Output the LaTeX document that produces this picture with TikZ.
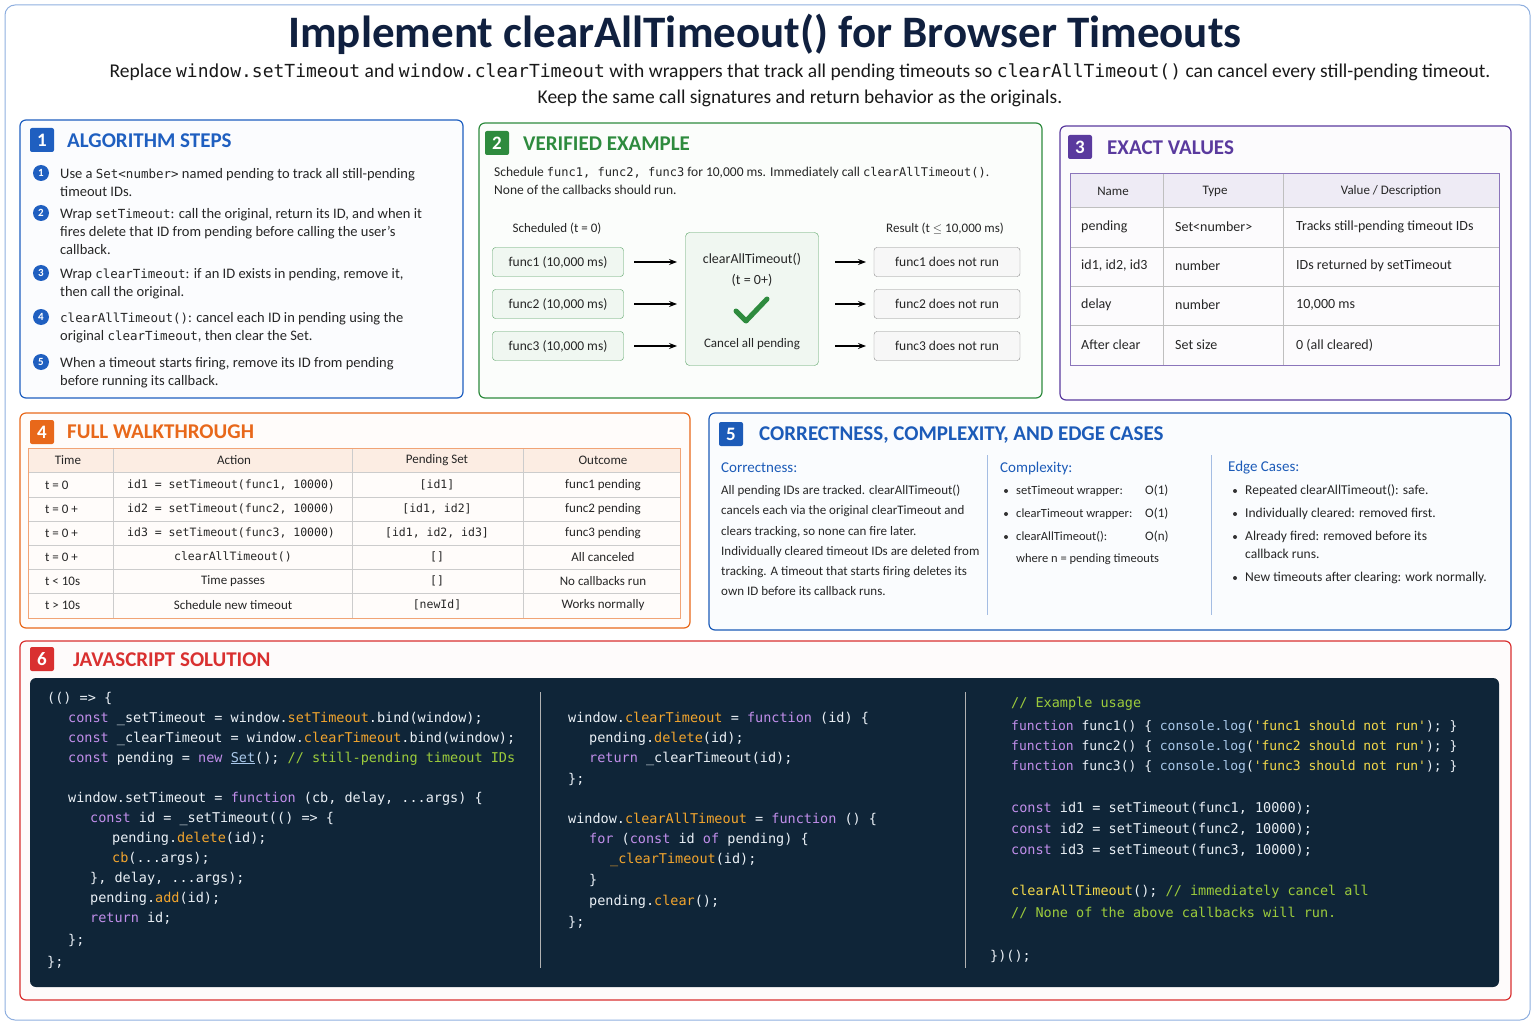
\documentclass[tikz,border=0pt]{standalone}
\usepackage{fontspec}
\setmainfont{Carlito}
\setmonofont{DejaVu Sans Mono}
\usepackage{xcolor}
\usetikzlibrary{arrows.meta}
\usetikzlibrary{positioning}
\definecolor{navy}{HTML}{10203F}
\definecolor{cA}{HTML}{1F5FC0}
\definecolor{cB}{HTML}{2E8B3E}
\definecolor{cC}{HTML}{5A3A9E}
\definecolor{cD}{HTML}{E8681A}
\definecolor{cE}{HTML}{1C5BB8}
\definecolor{cF}{HTML}{D93030}
\definecolor{codebg}{HTML}{0F2538}
\definecolor{kwc}{HTML}{C18EEA}
\definecolor{fnc}{HTML}{F2A52E}
\definecolor{cmc}{HTML}{9CCB3C}
\definecolor{stc}{HTML}{F2D84A}
\definecolor{csc}{HTML}{A9C8EA}
\definecolor{txc}{HTML}{EAF0F6}
\newcommand\fsz[2]{\fontsize{#1}{#2}\selectfont}
\newcommand\kw[1]{\textcolor{kwc}{#1}}
\newcommand\fn[1]{\textcolor{fnc}{#1}}
\newcommand\cm[1]{\textcolor{cmc}{#1}}
\newcommand\st[1]{\textcolor{stc}{#1}}
\newcommand\cs[1]{\textcolor{csc}{#1}}
\tikzset{
  panel/.style={draw=#1, line width=1.2pt, rounded corners=6pt, fill=#1!2},
  badge/.style={fill=#1, text=white, font=\fsz{19}{20}\bfseries, minimum size=24pt,
    inner sep=0pt, rounded corners=2pt},
  head/.style={text=#1, font=\fsz{21}{24}\bfseries, anchor=west, inner sep=0pt},
  body/.style={font=\fsz{14.5}{18}, anchor=north west, inner sep=0pt, align=left, text=black!85},
  small/.style={font=\fsz{13}{20.2}, anchor=north west, inner sep=0pt, align=left, text=black!85},
  cell/.style={font=\fsz{13}{14}, inner sep=0pt, text=black!85},
  stepnum/.style={circle, fill=cA, text=white, font=\fsz{11}{12}\bfseries, minimum size=16pt, inner sep=0pt},
  gbox/.style={draw=cB!80, fill=cB!7, rounded corners=3pt, minimum width=131pt, minimum height=29pt,
    font=\fsz{13.5}{14}, text=black!85},
  rbox/.style={draw=black!45, fill=black!3, rounded corners=3pt, minimum width=146pt, minimum height=29pt,
    font=\fsz{13.5}{14}, text=black!85},
  code/.style={font=\ttfamily\fsz{13.5}{16}, text=txc, anchor=base west, inner sep=0pt},
  flow/.style={-{Stealth[length=8pt]}, line width=1.2pt},
  bul/.style={circle, fill=black!80, inner sep=0pt, minimum size=4pt}
}
\begin{document}
\begin{tikzpicture}[x=1pt, y=-1pt]
\useasboundingbox (0,0) rectangle (1536,1024);
\draw[draw=cA!50, line width=1pt, rounded corners=10pt] (5,5) rectangle (1530,1020);

% title
\node[text=navy, font=\fsz{45}{48}\bfseries] (title) at (765,34) {Implement clearAllTimeout() for Browser Timeouts};
\node[text=black!90, font=\fsz{19.5}{26}, align=center] (sub) at (800,85)
  {Replace \texttt{\fsz{18}{26}window.setTimeout} and \texttt{\fsz{18}{26}window.clearTimeout} with wrappers that track all pending timeouts so \texttt{\fsz{18}{26}clearAllTimeout()} can cancel every still-pending timeout.\\
   Keep the same call signatures and return behavior as the originals.};

% 1 algorithm steps
\draw[panel=cA] (20,120) rectangle (463,398);
\node[badge=cA] (b1) at (42,140) {1};
\node[head=cA] (h1) at (67,141) {ALGORITHM STEPS};
\foreach \n/\y in {1/173,2/213,3/273,4/317,5/362}
  \node[stepnum] (s\n) at (41,\y) {\n};
\node[body] (t1) at (60,168) {Use a \texttt{\fsz{12.5}{18}Set<number>} named pending to track all still-pending\\timeout IDs.};
\node[body] (t2) at (60,208) {Wrap \texttt{\fsz{12.5}{18}setTimeout}: call the original, return its ID, and when it\\fires delete that ID from pending before calling the user's\\callback.};
\node[body] (t3) at (60,268) {Wrap \texttt{\fsz{12.5}{18}clearTimeout}: if an ID exists in pending, remove it,\\then call the original.};
\node[body] (t4) at (60,312) {\texttt{\fsz{12.5}{18}clearAllTimeout()}: cancel each ID in pending using the\\original \texttt{\fsz{12.5}{18}clearTimeout}, then clear the Set.};
\node[body] (t5) at (60,357) {When a timeout starts firing, remove its ID from pending\\before running its callback.};

% 2 verified example
\draw[panel=cB] (479,123) rectangle (1042,398);
\node[badge=cB] (b2) at (497,143) {2};
\node[head=cB] (h2) at (523,144) {VERIFIED EXAMPLE};
\node[body, font=\fsz{13.5}{18}] (ex) at (494,167) {Schedule \texttt{\fsz{12}{18}func1, func2, func3} for 10,000 ms. Immediately call \texttt{\fsz{12}{18}clearAllTimeout()}.\\None of the callbacks should run.};
\node[cell] (sch) at (557,229) {Scheduled (t = 0)};
\node[cell] (res) at (945,229) {Result (t $\leq$ 10,000 ms)};
\node[draw=cB!80, fill=cB!7, rounded corners=4pt, minimum width=133pt, minimum height=133pt] (mid) at (752,299) {};
\node[cell, font=\fsz{14}{14}] (ca) at (752,259) {clearAllTimeout()};
\node[cell, font=\fsz{14}{14}] (tz) at (752,280) {(t = 0+)};
\draw[cB, line width=5pt, line cap=round, line join=round] (736,311) -- (746,321) -- (767,299);
\node[cell] (cp) at (752,344) {Cancel all pending};
\foreach \n/\y in {1/262,2/304,3/346}{
  \node[gbox] (f\n) at (558,\y) {func\n\ (10,000 ms)};
  \node[rbox] (r\n) at (947,\y) {func\n\ does not run};
  \coordinate (a\n) at (634,\y); \coordinate (m\n) at (677,\y);
  \coordinate (c\n) at (835,\y); \coordinate (d\n) at (866,\y);
  \draw[flow] (a\n) -- (m\n);
  \draw[flow] (c\n) -- (d\n);
}

% 3 exact values
\draw[panel=cC] (1060,126) rectangle (1511,400);
\node[badge=cC] (b3) at (1080,147) {3};
\node[head=cC] (h3) at (1107,148) {EXACT VALUES};
\fill[cC!10] (1070,174) rectangle (1499,207);
\foreach \y in {207,247,286,325} \draw[black!25] (1070,\y) -- (1499,\y);
\foreach \x in {1163,1283} \draw[black!25] (\x,174) -- (\x,365);
\draw[cC!70, line width=1pt] (1070,174) rectangle (1499,365);
\node[cell] (n0) at (1113,191) {Name};
\node[cell] (n1) at (1215,191) {Type};
\node[cell] (n2) at (1391,191) {Value / Description};
\foreach \y/\a/\b/\c in {227/pending/Set<number>/Tracks still-pending timeout IDs,
    266/{id1, id2, id3}/number/IDs returned by setTimeout,
    305/delay/number/{10,000 ms},
    345/After clear/Set size/0 (all cleared)}{
  \node[cell, font=\fsz{14}{14}, anchor=west] at (1081,\y) {\a};
  \node[cell, font=\fsz{14}{14}, anchor=west] at (1175,\y) {\b};
  \node[cell, font=\fsz{14}{14}, anchor=west] at (1296,\y) {\c};
}

% 4 full walkthrough
\draw[panel=cD] (20,413) rectangle (690,628);
\node[badge=cD] (b4) at (42,432) {4};
\node[head=cD] (h4) at (67,432) {FULL WALKTHROUGH};
\fill[cD!12] (28,448) rectangle (680,472);
\foreach \y in {472,497,521,545,569,593} \draw[black!20] (28,\y) -- (680,\y);
\foreach \x in {113,352,523} \draw[black!20] (\x,448) -- (\x,618);
\draw[cD!60, line width=0.8pt] (28,448) rectangle (680,618);
\node[cell] (w0) at (68,460) {Time};
\node[cell] (w1) at (234,460) {Action};
\node[cell] (w2) at (437,460) {Pending Set};
\node[cell] (w3) at (603,460) {Outcome};
\foreach \y/\t/\f in {485/t = 0/1, 509/t = 0 +/2, 533/t = 0 +/3}{
  \node[cell, anchor=west] at (45,\y) {\t};
  \node[cell, anchor=west, font=\ttfamily\fsz{11.5}{14}] at (127,\y) {id\f\ = setTimeout(func\f, 10000)};
  \node[cell] at (603,\y) {func\f\ pending};
}
\node[cell, font=\ttfamily\fsz{11.5}{14}] (p1) at (437,485) {[id1]};
\node[cell, font=\ttfamily\fsz{11.5}{14}] (p2) at (437,509) {[id1, id2]};
\node[cell, font=\ttfamily\fsz{11.5}{14}] (p3) at (437,533) {[id1, id2, id3]};
\foreach \y/\t/\a/\p/\o in {557/t = 0 +/\texttt{\fsz{11.5}{14}clearAllTimeout()}/[]/All canceled,
    581/t < 10s/Time passes/[]/No callbacks run,
    605/t > 10s/Schedule new timeout/[newId]/Works normally}{
  \node[cell, anchor=west] at (45,\y) {\t};
  \node[cell] at (233,\y) {\a};
  \node[cell, font=\ttfamily\fsz{11.5}{14}] at (437,\y) {\p};
  \node[cell] at (603,\y) {\o};
}

% 5 correctness
\draw[panel=cE] (709,413) rectangle (1511,630);
\node[badge=cE] (b5) at (731,434) {5};
\node[head=cE] (h5) at (759,435) {CORRECTNESS, COMPLEXITY, AND EDGE CASES};
\draw[cE!40] (987,455) -- (987,615);
\draw[cE!40] (1211,455) -- (1211,615);
\node[cell, anchor=west, text=cE, font=\fsz{15}{16}] (k1) at (721,468) {Correctness:};
\node[cell, anchor=west, text=cE, font=\fsz{15}{16}] (k2) at (1000,468) {Complexity:};
\node[cell, anchor=west, text=cE, font=\fsz{15}{16}] (k3) at (1228,468) {Edge Cases:};
\node[small] (cor) at (721,485) {All pending IDs are tracked. clearAllTimeout()\\cancels each via the original clearTimeout and\\clears tracking, so none can fire later.\\Individually cleared timeout IDs are deleted from\\tracking. A timeout that starts firing deletes its\\own ID before its callback runs.};
\foreach \y/\a/\b in {491/setTimeout wrapper:/O(1), 514/clearTimeout wrapper:/O(1), 537/clearAllTimeout():/O(n)}{
  \node[bul] at (1006,\y) {};
  \node[cell, anchor=west, font=\fsz{12.5}{14}] at (1016,\y) {\a};
  \node[cell, anchor=west, font=\fsz{13}{14}] at (1145,\y) {\b};
}
\node[cell, anchor=west, font=\fsz{12.5}{14}] (wn) at (1016,559) {where n = pending timeouts};
\foreach \y in {491,514,537,578} \node[bul] at (1235,\y) {};
\node[cell, anchor=west, font=\fsz{13.5}{14}] (e1) at (1245,491) {Repeated clearAllTimeout(): safe.};
\node[cell, anchor=west, font=\fsz{13.5}{14}] (e2) at (1245,514) {Individually cleared: removed first.};
\node[small, font=\fsz{13.5}{18}] (e3) at (1245,531) {Already fired: removed before its\\callback runs.};
\node[cell, anchor=west, font=\fsz{13.5}{14}] (e4) at (1245,578) {New timeouts after clearing: work normally.};

% 6 javascript solution
\draw[panel=cF] (20,641) rectangle (1511,1000);
\node[badge=cF] (b6) at (42,659) {6};
\node[head=cF] (h6) at (73,660) {JAVASCRIPT SOLUTION};
\fill[codebg, rounded corners=6pt] (30,678) rectangle (1499,987);
\draw[black!30, line width=1pt] (540,692) -- (540,968);
\draw[black!30, line width=1pt] (965,692) -- (965,968);

% left column
\node[code] (l1) at (47,702) {(() => \{};
\node[code] (l2) at (68,722) {\kw{const} \_setTimeout = window.\fn{setTimeout}.bind(window);};
\node[code] (l3) at (68,742) {\kw{const} \_clearTimeout = window.\fn{clearTimeout}.bind(window);};
\node[code] (l4) at (68,762) {\kw{const} pending = \kw{new} \cs{\underline{Set}}(); \cm{// still-pending timeout IDs}};
\node[code] (l5) at (68,802) {window.setTimeout = \kw{function} (cb, delay, ...args) \{};
\node[code] (l6) at (90,822) {\kw{const} id = \_setTimeout(() => \{};
\node[code] (l7) at (112,842) {pending.\fn{delete}(id);};
\node[code] (l8) at (112,862) {\fn{cb}(...args);};
\node[code] (l9) at (90,882) {\}, delay, ...args);};
\node[code] (l10) at (90,902) {pending.\fn{add}(id);};
\node[code] (l11) at (90,922) {\kw{return} id;};
\node[code] (l12) at (68,944) {\};};
\node[code] (l13) at (47,966) {\};};

% middle column
\node[code] (m1) at (568,722) {window.\fn{clearTimeout} = \kw{function} (id) \{};
\node[code] (m2) at (589,742) {pending.\fn{delete}(id);};
\node[code] (m3) at (589,762) {\kw{return} \_clearTimeout(id);};
\node[code] (m4) at (568,783) {\};};
\node[code] (m5) at (568,823) {window.\fn{clearAllTimeout} = \kw{function} () \{};
\node[code] (m6) at (589,843) {\kw{for} (\kw{const} id \kw{of} pending) \{};
\node[code] (m7) at (610,863) {\fn{\_clearTimeout}(id);};
\node[code] (m8) at (589,884) {\}};
\node[code] (m9) at (589,905) {pending.\fn{clear}();};
\node[code] (m10) at (568,926) {\};};

% right column
\node[code] (q1) at (1011,707) {\cm{// Example usage}};
\foreach \n/\y in {1/730,2/750,3/770}
  \node[code, font=\ttfamily\fsz{13}{16}] (q\n f) at (1011,\y) {\kw{function} func\n() \{ \cs{console.log}(\st{'func\n\ should not run'}); \}};
\foreach \n/\y in {1/812,2/833,3/854}
  \node[code] (q\n c) at (1011,\y) {\kw{const} id\n\ = setTimeout(func\n, 10000);};
\node[code] (q8) at (1011,895) {\st{clearAllTimeout}(); \cm{// immediately cancel all}};
\node[code] (q9) at (1011,917) {\cm{// None of the above callbacks will run.}};
\node[code] (q10) at (990,960) {\})();};
\end{tikzpicture}
\end{document}
